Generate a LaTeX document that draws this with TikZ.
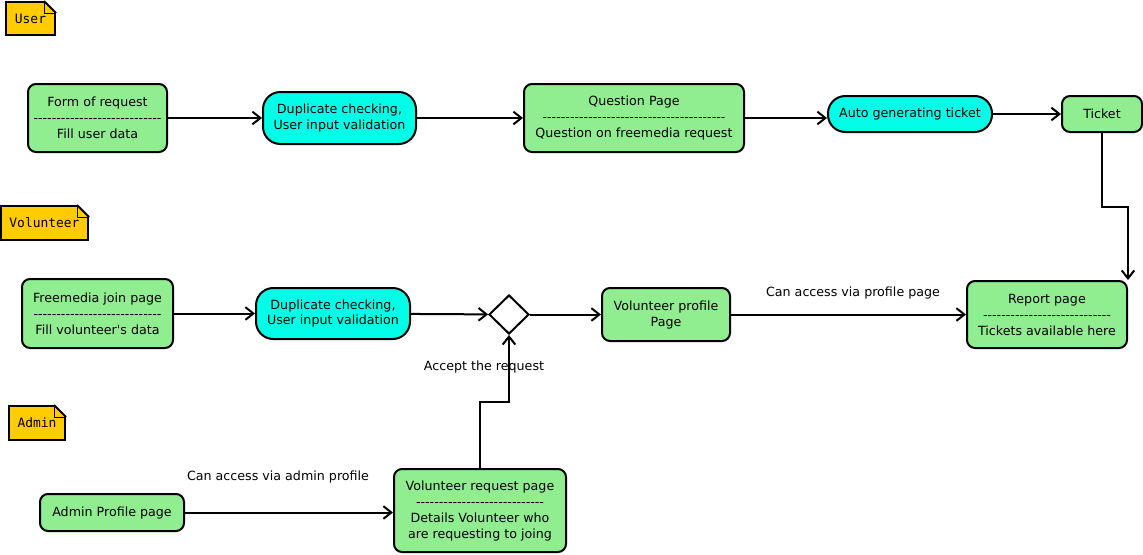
\documentclass[tikz,border=0pt]{standalone}
\usepackage{fontspec}
\setmainfont{DejaVu Sans}
\newfontfamily\notefont{DejaVu Sans Mono}
\newfontfamily\plainfont{DejaVu Sans}[Ligatures=TeXOff]
\usetikzlibrary{shapes.geometric,arrows.meta,calc}

\definecolor{pagegreen}{HTML}{90EE90}
\definecolor{taskcyan}{HTML}{00FFE6}
\definecolor{noteyellow}{HTML}{FFCC00}

\newcommand{\sepline}{{\plainfont ----------------------------}}

\begin{document}
\begin{tikzpicture}
    [x=0.75pt, y=-0.75pt, font=\fontsize{9.5}{12}\selectfont,
     page/.style={rectangle, rounded corners=6pt, draw, line width=1.5pt, fill=pagegreen, align=center, inner sep=2pt},
     task/.style={rectangle, rounded corners=13pt, draw, line width=1.5pt, fill=taskcyan, align=center, inner sep=2pt},
     note/.style={rectangle, draw, line width=1.5pt, fill=noteyellow, font=\notefont\fontsize{9.7}{12}\selectfont},
     flow/.style={-{Straight Barb[length=6pt,width=9.5pt]}, line width=1.5pt},
     lbl/.style={inner sep=0pt}]

  \fill[white] (0,0) rectangle (1143,554);
  \useasboundingbox (0,0) rectangle (1143,554);

  % user lane
  \node[note, minimum width=36.75pt, minimum height=24.75pt] (unote) at (30.5,18.5) {User};
  \node[page, minimum width=104.25pt, minimum height=51pt] (form) at (97.5,118) {Form of request\\\sepline\\Fill user data};
  \node[task, minimum width=114.75pt, minimum height=39pt] (dup1) at (339.5,118) {Duplicate checking,\\User input validation};
  \node[page, minimum width=165pt, minimum height=51pt] (question) at (634,118) {Question Page\\{\plainfont ----------------------------------------}\\Question on freemedia request};
  \node[task, minimum width=123pt, minimum height=27pt] (auto) at (910,114) {Auto generating ticket};
  \node[page, minimum width=60pt, minimum height=27pt] (ticket) at (1102,114) {Ticket};

  % volunteer lane
  \node[note, minimum width=65.25pt, minimum height=25.5pt] (vnote) at (44.5,223) {Volunteer};
  \node[page, minimum width=113.25pt, minimum height=51.75pt] (join) at (97.5,313.5) {Freemedia join page\\\sepline\\Fill volunteer{\plainfont '}s data};
  \node[task, minimum width=115.5pt, minimum height=38.25pt] (dup2) at (333,313.5) {Duplicate checking,\\User input validation};
  \node[diamond, draw, line width=1.5pt, fill=white, minimum width=30pt, minimum height=29.25pt, inner sep=0pt] (accept) at (509,314.5) {};
  \node[page, minimum width=96pt, minimum height=39.75pt] (profile) at (666,314.5) {Volunteer profile\\Page};
  \node[page, minimum width=120pt, minimum height=50.25pt] (report) at (1047,314.5) {Report page\\\sepline\\Tickets available here};

  % admin lane
  \node[note, minimum width=42pt, minimum height=25.5pt] (anote) at (37,423) {Admin};
  \node[page, minimum width=108pt, minimum height=27.75pt] (admin) at (112,512.5) {Admin Profile page};
  \node[page, minimum width=129pt, minimum height=62.25pt] (request) at (480,510.5) {Volunteer request page\\\sepline\\Details Volunteer who\\are requesting to joing};

  % labels
  \node[lbl] (viaprofile) at (853,293) {Can access via profile page};
  \node[lbl] (acceptlbl) at (484,367) {Accept the request};
  \node[lbl] (viaadmin) at (278,477) {Can access via admin profile};

  % folded corners
  \foreach \n in {unote,vnote,anote}{
    \fill[white] ($(\n.north east)+(-12,0)$) -- ++(0,-3) -| ($(\n.north east)+(3,12)$) -- ($(\n.north east)+(0,12)$) -- cycle;
    \draw[line width=1.5pt] ($(\n.north east)+(-12,0)$) -- ($(\n.north east)+(0,12)$);
    \draw ($(\n.north east)+(-12,0)$) |- ($(\n.north east)+(0,12)$);
  }

  \draw[flow] (form) -- (dup1);
  \draw[flow] (dup1) -- (question);
  \draw[flow] (question.east) -- (question.east -| auto.west);
  \draw[flow] (auto) -- (ticket);
  \draw[flow] (ticket.south) -- ++(0,74) -| (report.north east);
  \draw[flow] (join) -- (dup2);
  \draw[flow] (dup2) -- (accept);
  \draw[flow] (accept) -- (profile);
  \draw[flow] (profile) -- (report);
  \draw[flow] (admin.east) -- (admin.east -| request.west);
  \draw[flow] (request.north) -- ++(0,-66) -| (accept.south);
\end{tikzpicture}
\end{document}
